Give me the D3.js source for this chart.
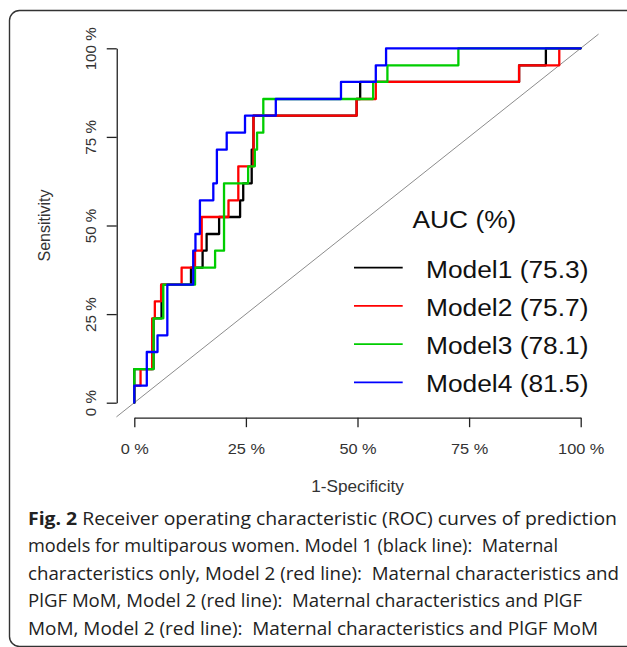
<!DOCTYPE html>
<html>
<head>
<meta charset="utf-8">
<script src="https://cdn.jsdelivr.net/npm/d3@7"></script>
<style>
  html, body { margin: 0; padding: 0; background: #fff; }
  svg { display: block; }
  .cap { white-space: pre; }
</style>
</head>
<body>
<script>
// ---------- data ----------
const tickValues = [0, 25, 50, 75, 100];
const modelNames = ["Model1", "Model2", "Model3", "Model4"];
const aucValues = [75.3, 75.7, 78.1, 81.5];

// ROC step points: 1-specificity (%) at which sensitivity (%) jumps to the given value
const model1Fpr  = [0, 0, 4.3, 6.1, 12.7, 15.3, 16.2, 19.0, 23.7, 24.4, 26.3, 26.7, 49.8, 50.6, 86.2, 92.2, 100];
const model1Sens = [0, 9.5, 23.8, 33.3, 38.1, 42.9, 47.6, 52.4, 57.1, 61.9, 71.4, 81.0, 85.7, 90.5, 95.2, 100, 100];

const model2Fpr  = [0, 0, 1.4, 4.0, 4.6, 6.0, 10.6, 13.6, 15.1, 21.1, 23.3, 26.7, 49.8, 54.1, 86.2, 95.2, 100];
const model2Sens = [0, 4.8, 9.5, 23.8, 28.6, 33.3, 38.1, 42.9, 52.4, 57.1, 66.7, 81.0, 85.7, 90.5, 95.2, 100, 100];

const model3Fpr  = [0, 0, 4.3, 6.5, 13.6, 18.1, 20.1, 25.5, 27.0, 27.5, 28.9, 53.5, 56.7, 72.6, 100];
const model3Sens = [0, 9.5, 23.8, 33.3, 38.1, 42.9, 61.9, 66.7, 71.4, 76.2, 85.7, 90.5, 95.2, 100, 100];

const model4Fpr  = [0, 0, 2.8, 5.2, 7.4, 13.2, 13.7, 14.7, 17.7, 18.5, 20.7, 24.8, 31.7, 46.3, 54.1, 56.4, 100];
const model4Sens = [0, 4.8, 14.3, 19.0, 33.3, 42.9, 47.6, 57.1, 61.9, 71.4, 76.2, 81.0, 85.7, 90.5, 95.2, 100, 100];

const captionBold = "Fig. 2";
const captionLines = [
  " Receiver operating characteristic (ROC) curves of prediction",
  "models for multiparous women. Model 1 (black line):  Maternal",
  "characteristics only, Model 2 (red line):  Maternal characteristics and",
  "PlGF MoM, Model 2 (red line):  Maternal characteristics and PlGF",
  "MoM, Model 2 (red line):  Maternal characteristics and PlGF MoM"
];

// ---------- style ----------
const colors = ["#000000", "#ff0000", "#00cd00", "#0000ff"];
const W = 627, H = 647;
const SX = 1.075; // horizontal stretch of the figure text

const svg = d3.select("body").append("svg").attr("width", W).attr("height", H);

// frame
svg.append("rect")
  .attr("x", 9.5).attr("y", 10.5).attr("width", 640).attr("height", 636)
  .attr("rx", 10).attr("ry", 10)
  .attr("fill", "none").attr("stroke", "#333").attr("stroke-width", 1.4);

const x = d3.scaleLinear().domain([0, 100]).range([134.3, 580.7]);
const y = d3.scaleLinear().domain([0, 100]).range([402.7, 48.3]);

// chance diagonal across the whole plotting region
svg.append("line")
  .attr("x1", x(-4)).attr("y1", y(-4)).attr("x2", x(104)).attr("y2", y(104))
  .attr("stroke", "#8c8c8c").attr("stroke-width", 1);

// axes
const font = "'Liberation Sans', Arial, sans-serif";
const xAxis = svg.append("g").attr("transform", `translate(0,${y(-4) + 0.8})`)
  .call(d3.axisBottom(x).tickValues(tickValues).tickFormat(d => d + " %").tickSize(9.5).tickSizeOuter(0));
xAxis.select(".domain").attr("stroke", "#222").attr("stroke-width", 1.3);
xAxis.selectAll(".tick line").attr("stroke", "#222").attr("stroke-width", 1.3);
xAxis.selectAll(".tick text")
  .attr("y", 36.5).attr("dy", 0)
  .attr("transform", `scale(${SX},1)`)
  .style("font-family", font).style("font-size", "15.2px").attr("fill", "#333");

const yAxis = svg.append("g").attr("transform", `translate(${x(-4) + 0.3},0)`)
  .call(d3.axisLeft(y).tickValues(tickValues).tickFormat(d => d + " %").tickSize(10).tickSizeOuter(0));
yAxis.select(".domain").attr("stroke", "#222").attr("stroke-width", 1.3);
yAxis.selectAll(".tick line").attr("stroke", "#222").attr("stroke-width", 1.3);
yAxis.selectAll(".tick text")
  .attr("x", null).attr("dy", 0)
  .attr("text-anchor", "middle")
  .attr("transform", "translate(-20.5,0) rotate(-90)")
  .style("font-family", font).style("font-size", "15.2px").attr("fill", "#333");

// axis titles
svg.append("text")
  .attr("transform", `translate(${x(50)},491.5) scale(${SX},1)`)
  .attr("text-anchor", "middle")
  .style("font-family", font).style("font-size", "16px").attr("fill", "#333")
  .text("1-Specificity");
svg.append("text")
  .attr("transform", `translate(50,${y(50)}) rotate(-90)`)
  .attr("text-anchor", "middle")
  .style("font-family", font).style("font-size", "16px").attr("fill", "#333")
  .text("Sensitivity");

// ROC curves
const models = [
  { fpr: model1Fpr, sens: model1Sens },
  { fpr: model2Fpr, sens: model2Sens },
  { fpr: model3Fpr, sens: model3Sens },
  { fpr: model4Fpr, sens: model4Sens }
];
const line = d3.line().x(d => x(d[0])).y(d => y(d[1])).curve(d3.curveStepAfter);
models.forEach((m, i) => {
  const pts = m.fpr.map((f, j) => [f, m.sens[j]]);
  svg.append("path")
    .attr("d", line(pts))
    .attr("fill", "none")
    .attr("stroke", colors[i])
    .attr("stroke-width", 2.3)
    .attr("stroke-linejoin", "round")
    .attr("stroke-linecap", "round");
});

// legend
const lg = svg.append("g");
lg.append("text")
  .attr("transform", `translate(412.5,228.3) scale(${SX},1)`)
  .style("font-family", font).style("font-size", "24.5px").attr("fill", "#111")
  .text("AUC (%)");
modelNames.forEach((name, i) => {
  const ly = 267.7 + i * 38.2;
  lg.append("line")
    .attr("x1", 354).attr("x2", 402.7).attr("y1", ly).attr("y2", ly)
    .attr("stroke", colors[i]).attr("stroke-width", 1.8);
  lg.append("text")
    .attr("transform", `translate(426,${278.3 + i * 38.0}) scale(${SX},1)`)
    .style("font-family", font).style("font-size", "24.5px").attr("fill", "#111")
    .text(`${name} (${aucValues[i].toFixed(1)})`);
});

// caption
const capFont = "'Open Sans', 'Noto Sans', sans-serif";
const capWidths = [589, 530, 591, 554, 570];
captionLines.forEach((t, i) => {
  const tx = svg.append("text")
    .attr("class", "cap")
    .attr("x", 28).attr("y", 524.8 + i * 27.5)
    .attr("textLength", capWidths[i]).attr("lengthAdjust", "spacingAndGlyphs")
    .style("font-family", capFont).style("font-size", "18px").attr("fill", "#222");
  if (i === 0) {
    tx.append("tspan").attr("font-weight", "bold").text(captionBold);
    tx.append("tspan").text(t);
  } else {
    tx.text(t);
  }
});
</script>
</body>
</html>
